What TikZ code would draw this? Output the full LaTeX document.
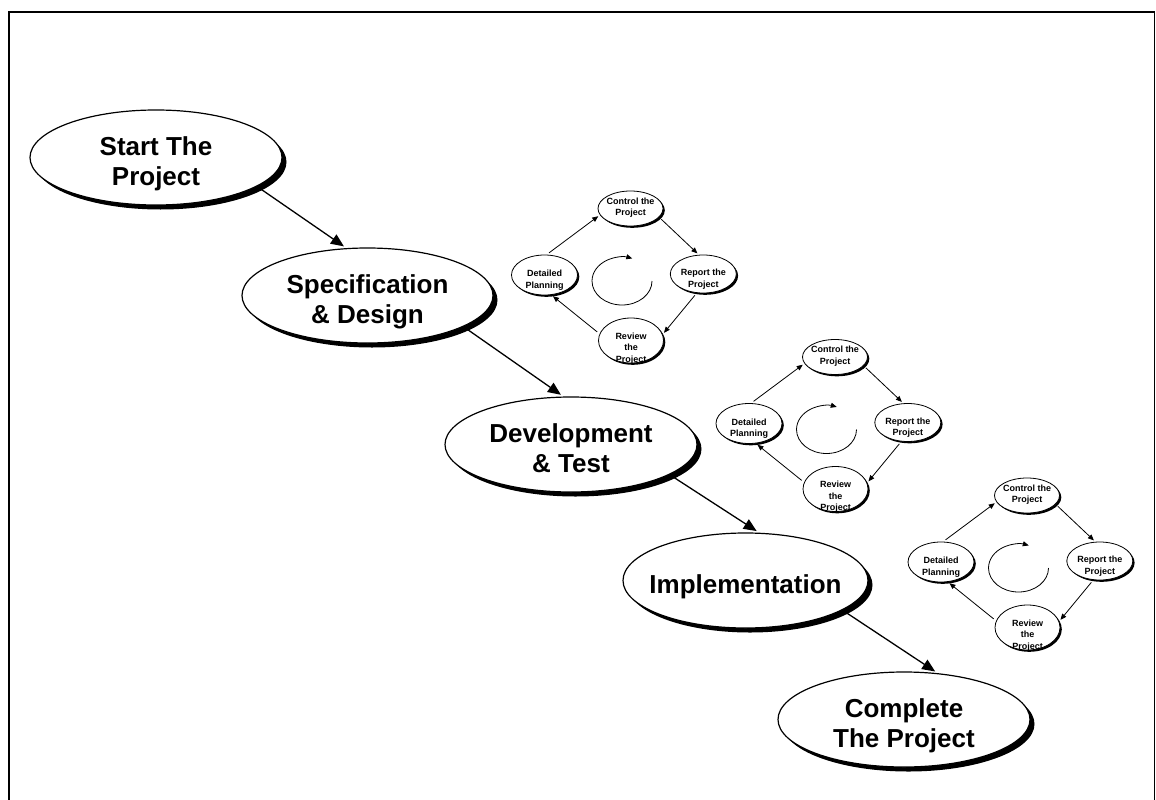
\documentclass[tikz,border=0pt]{standalone}
\usepackage{fontspec}
\setmainfont{Liberation Sans}
\usetikzlibrary{shapes.geometric,arrows.meta,shadows}
\begin{document}
\begin{tikzpicture}[x=1pt, y=-1pt,
  phase/.style={ellipse, draw, line width=1.2pt, fill=white, inner sep=0pt,
    minimum height=95pt,
    general shadow={fill=black, shadow xshift=4.5pt, shadow yshift=-4.5pt}},
  phasetext/.style={anchor=center, align=center, inner sep=0pt, text depth=0pt,
    yshift=-3.5pt, font=\fontsize{26}{30}\selectfont\bfseries},
  task/.style={ellipse, draw, line width=0.8pt, fill=white, inner sep=0pt,
    general shadow={fill=black, shadow xshift=1.8pt, shadow yshift=-1.8pt}},
  tasktext/.style={anchor=center, align=center, inner sep=0pt, text depth=0pt,
    font=\fontsize{9}{11.5}\selectfont\bfseries},
  flow/.style={line width=1.3pt, -{Triangle[length=13pt,width=11pt]},
    shorten <=5pt, shorten >=3pt},
  loop/.style={line width=0.8pt, -{Triangle[length=6pt,width=5pt]},
    shorten <=3pt, shorten >=2pt},
  spin/.style={line width=0.8pt, -{Triangle[length=6pt,width=5pt]}},
]
\useasboundingbox (0,0) rectangle (1156,800);

% page frame (its lower edge runs off the page)
\draw[line width=1.6pt] (9,812) -- (9,12) -- (1154.3,12) -- (1154.3,812);

% main phases
\node[phase, minimum width=252pt,
  label={[phasetext]center:Start The\\Project}] (s) at (156,157.5) {};
\node[phase, minimum width=251pt,
  label={[phasetext]center:Specification\\\& Design}] (sd) at (367.5,295.5) {};
\node[phase, minimum width=252pt,
  label={[phasetext]center:Development\\\& Test}] (dv) at (571,444.5) {};
\node[phase, minimum width=245pt,
  label={[phasetext]center:Implementation}] (im) at (745.5,580.5) {};
\node[phase, minimum width=252pt,
  label={[phasetext]center:Complete\\The Project}] (cp) at (904,719.5) {};

\draw[flow] (s.-16) -- (sd.114);
\draw[flow] (sd.-18) -- (dv.99);
\draw[flow] (dv.-17) -- (im.74);
\draw[flow] (im.-17) -- (cp.54);

% management cycle beside each phase
\foreach \k/\dx/\dy in {1/0/0, 2/204.5/148.5, 3/396.5/287}{
  \begin{scope}[shift={(\dx,\dy)}]
    \node[task, minimum width=66pt, minimum height=40pt,
      label={[tasktext, yshift=-4pt]center:Detailed\\Planning}] (dp\k) at (544.5,275) {};
    \node[task, minimum width=65pt, minimum height=35pt,
      label={[tasktext, yshift=2pt]center:Control the\\Project}] (ct\k) at (630.5,208.5) {};
    \node[task, minimum width=66pt, minimum height=38pt,
      label={[tasktext, yshift=-4pt]center:Report the\\Project}] (rp\k) at (703.3,274) {};
    \node[task, minimum width=65pt, minimum height=45pt,
      label={[tasktext, yshift=-7pt]center:Review\\the\\Project}] (rv\k) at (631,340.5) {};

    \draw[loop] (dp\k.84) -- (ct\k.192);
    \draw[loop] (ct\k.-17) -- (rp\k.103);
    \draw[loop] (rp\k.-109) -- (rv\k.11);
    \draw[loop] (rv\k.168) -- (dp\k.-71);

    \coordinate (sp\k) at (652,281);
    \draw[spin] (sp\k) arc[start angle=0, end angle=-290, x radius=30pt, y radius=24pt];
  \end{scope}
}
\end{tikzpicture}
\end{document}
